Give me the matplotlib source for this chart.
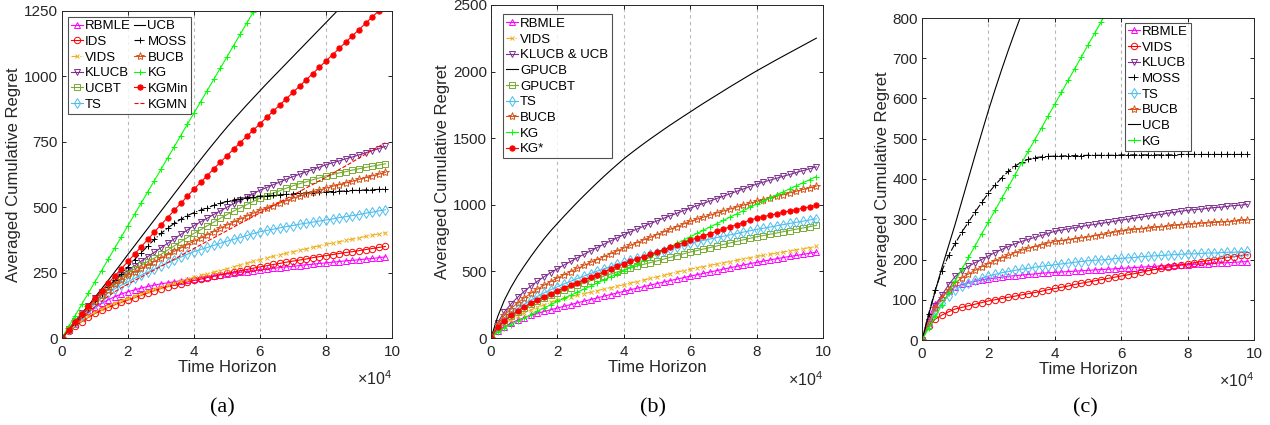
import numpy as np
import matplotlib
matplotlib.use("Agg")
import matplotlib.pyplot as plt

plt.rcParams['font.family'] = ['Liberation Sans', 'DejaVu Sans']
plt.rcParams['mathtext.fontset'] = 'custom'
plt.rcParams['mathtext.rm'] = 'Liberation Sans'

# time steps: one marker every 2000 rounds
T = np.arange(0, 100000, 2000)

# --- panel (a) ---------------------------------------------------------------
a_rbmle = [0, 30, 55, 78, 98, 116, 132, 146, 158, 168, 177, 184, 191, 197, 202, 207, 211, 215, 219, 223,
           227, 231, 235, 238, 242, 245, 248, 251, 254, 257, 260, 263, 266, 269, 272, 274, 277, 280, 282, 285,
           287, 290, 292, 295, 297, 299, 302, 304, 307, 310]
a_ids = [0, 25, 45, 63, 79, 94, 106, 117, 127, 136, 145, 154, 163, 172, 181, 189, 196, 202, 208, 214,
         220, 225, 231, 236, 242, 247, 252, 257, 262, 267, 272, 276, 281, 285, 290, 294, 298, 302, 307, 311,
         315, 319, 323, 327, 330, 334, 338, 342, 346, 350]
a_vids = [0, 26, 48, 67, 84, 99, 112, 124, 134, 143, 152, 161, 170, 179, 187, 195, 203, 210, 218, 225,
          232, 239, 245, 252, 258, 265, 272, 279, 286, 293, 300, 306, 312, 318, 324, 330, 336, 341, 347, 352,
          358, 363, 368, 373, 378, 383, 388, 393, 398, 403]
a_klucb = [0, 35, 66, 96, 124, 151, 176, 199, 220, 240, 258, 276, 294, 311, 328, 345, 362, 379, 396, 413,
           429, 444, 458, 472, 486, 500, 513, 526, 539, 552, 565, 575, 586, 596, 607, 617, 626, 635, 644, 653,
           662, 670, 677, 685, 692, 700, 708, 716, 724, 733]
a_ucbt = [0, 34, 64, 92, 118, 143, 166, 188, 209, 230, 250, 264, 278, 292, 306, 320, 336, 352, 368, 384,
          400, 414, 429, 443, 458, 472, 485, 497, 510, 522, 535, 544, 554, 563, 573, 582, 590, 597, 605, 612,
          620, 625, 631, 636, 642, 647, 652, 657, 661, 666]
a_ts = [0, 33, 62, 88, 112, 134, 154, 172, 188, 202, 215, 228, 240, 252, 264, 276, 287, 298, 309, 320,
        330, 338, 346, 354, 362, 370, 377, 384, 392, 399, 406, 411, 416, 421, 426, 430, 435, 439, 443, 447,
        451, 455, 460, 464, 468, 472, 477, 481, 486, 490]
a_ucb = [0, 30, 60, 92, 124, 156, 188, 220, 253, 286, 320, 353, 386, 419, 452, 485, 518, 551, 584, 617,
         650, 682, 714, 745, 776, 806, 835, 863, 891, 918, 945, 972, 998, 1024, 1050, 1076, 1102, 1128, 1154, 1180,
         1206, 1232, 1258, 1284]
a_moss = [0, 30, 59, 87, 114, 141, 168, 194, 220, 246, 272, 300, 326, 352, 377, 400, 420, 438, 454, 468,
          479, 489, 498, 507, 515, 522, 528, 532, 536, 539, 541, 543, 545, 547, 549, 551, 553, 555, 556, 558,
          559, 560, 561, 562, 564, 565, 566, 567, 568, 570]
a_bucb = [0, 34, 64, 92, 118, 142, 164, 185, 205, 223, 240, 253, 266, 279, 292, 305, 318, 331, 344, 357,
          370, 382, 395, 407, 420, 432, 443, 455, 466, 477, 488, 497, 506, 516, 525, 534, 542, 550, 557, 565,
          573, 580, 586, 593, 599, 606, 613, 620, 626, 633]
a_kg = [0, 43, 86, 129, 172, 215, 258, 301, 344, 387, 430, 473, 516, 559, 602, 645, 688, 731, 774, 817,
        860, 903, 946, 989, 1032, 1075, 1118, 1161, 1204, 1247, 1290]
a_kgmin = [0, 32, 63, 93, 122, 151, 180, 209, 237, 265, 293, 321, 349, 377, 405, 433, 460, 488, 515, 542,
           569, 595, 621, 647, 672, 697, 722, 747, 771, 795, 819, 843, 867, 891, 915, 939, 963, 987, 1011, 1035,
           1059, 1083, 1107, 1131, 1155, 1179, 1203, 1227, 1251, 1275]
a_kgmn = [0, 30, 55, 78, 100, 120, 140, 160, 177, 192, 206, 220, 233, 247, 260, 274, 288, 301, 315, 329,
          342, 356, 370, 383, 397, 410, 424, 438, 451, 465, 478, 492, 506, 519, 533, 546, 560, 574, 587, 601,
          614, 629, 644, 658, 673, 688, 703, 718, 732, 746]

# --- panel (b) ---------------------------------------------------------------
b_rbmle = [0, 50, 85, 112, 134, 153, 170, 185, 199, 212, 225, 238, 251, 264, 276, 289, 301, 314, 326, 338,
           350, 362, 374, 386, 397, 409, 420, 431, 442, 453, 464, 475, 485, 496, 506, 517, 527, 538, 548, 558,
           568, 577, 586, 595, 604, 612, 620, 628, 636, 644]
b_vids = [0, 65, 106, 138, 165, 189, 211, 231, 250, 268, 285, 298, 310, 322, 333, 344, 355, 367, 378, 389,
          400, 412, 424, 436, 448, 460, 471, 483, 494, 506, 517, 527, 536, 546, 555, 565, 574, 584, 593, 603,
          612, 620, 629, 637, 645, 654, 662, 670, 679, 687]
b_klucb = [0, 115, 195, 255, 305, 350, 390, 426, 460, 491, 520, 548, 575, 602, 628, 654, 679, 704, 728, 752,
           775, 797, 818, 839, 859, 879, 899, 918, 937, 956, 975, 993, 1011, 1029, 1047, 1065, 1083, 1101, 1119, 1137,
           1155, 1170, 1185, 1199, 1214, 1228, 1243, 1257, 1271, 1285]
b_gpucb = [0, 160, 283, 380, 465, 540, 612, 680, 745, 805, 860, 914, 967, 1019, 1069, 1118, 1166, 1213, 1258, 1302,
           1345, 1384, 1422, 1459, 1495, 1530, 1565, 1599, 1632, 1665, 1697, 1730, 1762, 1793, 1824, 1855, 1886, 1916,
           1946, 1976, 2005, 2033, 2061, 2089, 2116, 2143, 2170, 2197, 2224, 2251]
b_gpucbt = [0, 72, 122, 163, 198, 228, 255, 279, 301, 321, 340, 359, 377, 395, 413, 430, 447, 464, 480, 496,
            512, 526, 540, 553, 566, 579, 592, 606, 619, 632, 645, 656, 668, 679, 691, 702, 714, 725, 737, 748,
            760, 769, 779, 788, 798, 807, 817, 826, 836, 845]
b_ts = [0, 85, 140, 184, 222, 255, 285, 313, 339, 363, 385, 406, 426, 446, 465, 484, 502, 519, 536, 552,
        567, 583, 598, 613, 627, 641, 656, 670, 684, 698, 712, 723, 733, 743, 754, 764, 774, 784, 795, 805,
        815, 824, 833, 842, 851, 860, 869, 877, 886, 895]
b_bucb = [0, 105, 170, 220, 262, 300, 335, 367, 396, 424, 450, 475, 499, 522, 545, 567, 589, 611, 633, 654,
          675, 695, 716, 736, 756, 776, 796, 816, 836, 855, 875, 891, 907, 922, 938, 953, 968, 983, 997, 1011,
          1025, 1038, 1051, 1064, 1077, 1090, 1102, 1115, 1127, 1140]
b_kg = [0, 45, 75, 100, 125, 150, 175, 200, 225, 250, 275, 298, 321, 344, 367, 390, 413, 436, 459, 482,
        505, 531, 557, 583, 609, 635, 660, 685, 710, 735, 760, 785, 809, 834, 858, 883, 907, 932, 956, 981,
        1005, 1028, 1051, 1074, 1097, 1120, 1143, 1166, 1189, 1212]
b_kgstar = [0, 80, 130, 170, 204, 234, 261, 287, 311, 334, 355, 376, 396, 416, 436, 456, 476, 496, 516, 537,
            557, 575, 593, 611, 628, 646, 664, 681, 699, 716, 734, 751, 768, 784, 801, 818, 834, 851, 867, 884,
            900, 911, 922, 932, 943, 954, 964, 975, 985, 996]

# --- panel (c) ---------------------------------------------------------------
c_rbmle = [0, 55, 90, 108, 122, 132, 138, 142, 146, 149, 152, 154, 156, 158, 160, 161, 163, 164, 166, 167,
           168, 169, 170, 171, 172, 173, 174, 175, 176, 177, 178, 179, 180, 181, 182, 183, 184, 185, 186, 186,
           187, 188, 189, 190, 191, 191, 192, 193, 194, 195]
c_vids = [0, 35, 52, 62, 70, 77, 81, 85, 89, 93, 97, 100, 103, 106, 109, 112, 115, 118, 121, 125,
          128, 131, 134, 138, 141, 144, 147, 150, 153, 156, 159, 162, 165, 168, 172, 175, 178, 181, 184, 187,
          189, 192, 195, 197, 200, 202, 205, 207, 210, 212]
c_klucb = [0, 45, 85, 112, 137, 158, 172, 183, 192, 200, 209, 217, 225, 232, 239, 245, 250, 255, 260, 265,
           270, 273, 276, 279, 282, 285, 287, 290, 292, 295, 298, 300, 303, 305, 308, 310, 312, 315, 317, 320,
           322, 324, 325, 327, 329, 330, 332, 334, 335, 337]
c_moss = [0, 65, 125, 172, 210, 240, 268, 293, 318, 342, 365, 385, 403, 419, 432, 442, 449, 453, 455, 456,
          457, 457, 458, 458, 458, 459, 459, 459, 459, 459, 460, 460, 460, 460, 460, 460, 460, 460, 460, 461,
          461, 461, 461, 461, 461, 461, 461, 461, 461, 461]
c_ts = [0, 38, 70, 92, 110, 125, 134, 141, 148, 154, 159, 163, 167, 170, 173, 176, 178, 181, 183, 185,
        187, 189, 191, 193, 195, 197, 198, 199, 200, 202, 203, 204, 205, 207, 208, 209, 210, 211, 212, 213,
        214, 214, 215, 216, 216, 217, 218, 218, 219, 220]
c_bucb = [0, 42, 80, 105, 125, 142, 154, 164, 173, 182, 190, 197, 204, 210, 217, 223, 228, 232, 237, 241,
          245, 247, 249, 252, 254, 256, 259, 262, 265, 268, 271, 273, 275, 276, 278, 280, 281, 283, 285, 286,
          288, 289, 290, 291, 292, 293, 294, 295, 297, 298]
c_ucb = [0, 62, 122, 180, 234, 288, 345, 402, 459, 515, 570, 622, 672, 720, 766, 810, 852]
c_kg = [0, 29, 59, 88, 117, 147, 176, 205, 234, 264, 293, 322, 352, 381, 410, 440, 469, 498, 527, 557,
        586, 615, 645, 674, 703, 733, 762, 791, 820]

# --- line styles (MATLAB-like) ----------------------------------------------
MAG, RED, YEL, PUR = '#FF00FF', '#FF0000', '#EDB120', '#7E2F8E'
OLV, CYN, ORG, GRN = '#77AC30', '#4DBEEE', '#D95319', '#00FF00'
ST = {
    'tri':  dict(color=MAG, marker='^', mfc='none', ms=5.0, ls='-'),
    'circ': dict(color=RED, marker='o', mfc='none', ms=4.6, ls='-'),
    'vids': dict(color=YEL, marker='x', ms=3.2, ls='-.'),
    'kl':   dict(color=PUR, marker='v', mfc='none', ms=5.0, ls='-'),
    'sq':   dict(color=OLV, marker='s', mfc='none', ms=4.2, ls='-'),
    'ts':   dict(color=CYN, marker='d', mfc='none', ms=5.0, ls='-'),
    'ucb':  dict(color='black', ls='-'),
    'moss': dict(color='black', marker='+', ms=5.0, ls='-.'),
    'bucb': dict(color=ORG, marker='*', mfc='none', ms=6.0, ls='-'),
    'kg':   dict(color=GRN, marker='+', ms=5.0, ls='-'),
    'kgm':  dict(color=RED, marker='o', mfc=RED, ms=3.8, ls='-'),
    'kgmn': dict(color=RED, ls='--'),
}

panels = [
    dict(series=[('RBMLE', a_rbmle, 'tri'), ('IDS', a_ids, 'circ'), ('VIDS', a_vids, 'vids'),
                 ('KLUCB', a_klucb, 'kl'), ('UCBT', a_ucbt, 'sq'), ('TS', a_ts, 'ts'),
                 ('UCB', a_ucb, 'ucb'), ('MOSS', a_moss, 'moss'), ('BUCB', a_bucb, 'bucb'),
                 ('KG', a_kg, 'kg'), ('KGMin', a_kgmin, 'kgm'), ('KGMN', a_kgmn, 'kgmn')],
         rect=[62, 11, 392, 338], ymax=1250, ystep=250, ncol=2, leg=(0.018, 0.982), tag='(a)', tagx=222),
    dict(series=[('RBMLE', b_rbmle, 'tri'), ('VIDS', b_vids, 'vids'), ('KLUCB & UCB', b_klucb, 'kl'),
                 ('GPUCB', b_gpucb, 'ucb'), ('GPUCBT', b_gpucbt, 'sq'), ('TS', b_ts, 'ts'),
                 ('BUCB', b_bucb, 'bucb'), ('KG', b_kg, 'kg'), ('KG*', b_kgstar, 'kgm')],
         rect=[491, 5, 823, 338], ymax=2500, ystep=500, ncol=1, leg=(0.036, 0.972), tag='(b)', tagx=653),
    dict(series=[('RBMLE', c_rbmle, 'tri'), ('VIDS', c_vids, 'circ'), ('KLUCB', c_klucb, 'kl'),
                 ('MOSS', c_moss, 'moss'), ('TS', c_ts, 'ts'), ('BUCB', c_bucb, 'bucb'),
                 ('UCB', c_ucb, 'ucb'), ('KG', c_kg, 'kg')],
         rect=[922, 18, 1254, 340], ymax=800, ystep=100, ncol=1, leg=(0.611, 0.986), tag='(c)', tagx=1085),
]

W, H = 1270, 425
fig = plt.figure(figsize=(W / 100, H / 100), dpi=100)

for p in panels:
    x0, y0, x1, y1 = p['rect']
    ax = fig.add_axes([x0 / W, 1 - y1 / H, (x1 - x0) / W, (y1 - y0) / H])
    for name, vals, key in p['series']:
        ax.plot(T[:len(vals)] / 1e4, vals, label=name, lw=0.8, mew=0.7, **ST[key])
    ax.set_xlim(0, 10)
    ax.set_ylim(0, p['ymax'])
    ax.set_xticks(range(0, 11, 2))
    ax.set_yticks(np.arange(0, p['ymax'] + 1, p['ystep']))
    ax.grid(axis='x', color='#b8b8b8', ls=(0, (3, 3)), lw=0.8)
    ax.tick_params(direction='in', top=True, right=True, length=3, width=0.6, labelsize=11,
                   labelcolor='#262626')
    ax.tick_params(axis='x', pad=5)
    ax.tick_params(axis='y', pad=3)
    for s in ax.spines.values():
        s.set_linewidth(0.7)
        s.set_color('#262626')
    ax.set_xlabel('Time Horizon', fontsize=12, labelpad=1, color='#262626')
    ax.set_ylabel('Averaged Cumulative Regret', fontsize=12, labelpad=2, color='#262626')
    ax.text(1.0, -0.125, r'$\times\mathregular{10^4}$', transform=ax.transAxes,
            ha='right', va='center', fontsize=11.5, color='#262626')
    leg = ax.legend(loc='upper left', bbox_to_anchor=p['leg'], ncol=p['ncol'], fontsize=9.5,
                    frameon=True, fancybox=False, borderaxespad=0, handlelength=0.9,
                    handletextpad=0.15, labelspacing=0.26, columnspacing=0.2,
                    borderpad=0.25, numpoints=1)
    leg.get_frame().set_edgecolor('#262626')
    leg.get_frame().set_linewidth(0.8)
    fig.text(p['tagx'] / W, 1 - 408 / H, p['tag'], ha='center', va='center',
             fontsize=16, family='Liberation Serif')

fig.savefig('out.png', dpi=100)
